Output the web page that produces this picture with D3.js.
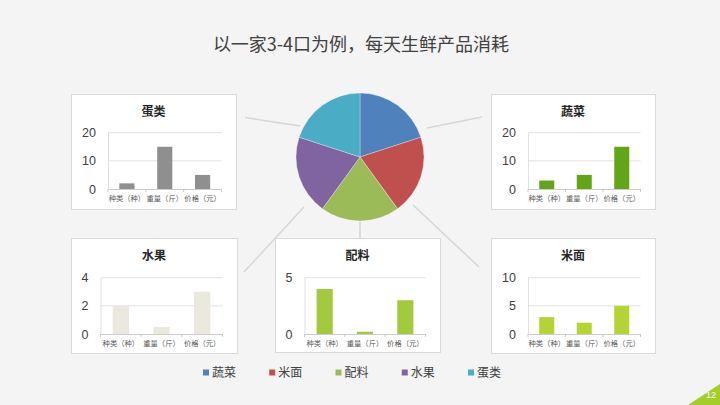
<!DOCTYPE html>
<html>
<head>
<meta charset="utf-8">
<script src="https://cdn.jsdelivr.net/npm/d3@7"></script>
<style>
  body { margin: 0; background: #f4f4f4; }
  svg { display: block; }
</style>
</head>
<body>
<div id="chart"></div>
<script>
// data
var categories = ["种类（种）", "重量（斤）", "价格（元）"];
var seriesNames = ["蔬菜", "米面", "配料", "水果", "蛋类"];
var pieShare = [20, 20, 20, 20, 20];

var vegValues = [3, 5, 15];
var grainValues = [3, 2, 5];
var spiceValues = [4, 0.2, 3];
var fruitValues = [2, 0.5, 3];
var eggValues = [2, 15, 5];

var vegTicks = [0, 10, 20];
var grainTicks = [0, 5, 10];
var spiceTicks = [0, 5];
var fruitTicks = [0, 2, 4];
var eggTicks = [0, 10, 20];

var W = 720, H = 405;
var cjk = "'Noto Sans CJK SC', 'Noto Sans', sans-serif";
var num = "'Liberation Sans', Arial, sans-serif";

var pieColors = ["#4f81bd", "#c0504d", "#9bbb59", "#8064a2", "#4bacc6"];

var svg = d3.select("#chart")
  .append("svg")
    .attr("width", W)
    .attr("height", H);

svg.append("rect")
  .attr("width", W).attr("height", H)
  .attr("fill", "#f4f4f4");

// title
svg.append("text")
  .attr("x", 361).attr("y", 51)
  .attr("text-anchor", "middle")
  .style("font-family", cjk)
  .style("font-size", "18px")
  .style("fill", "#404040")
  .text("以一家3-4口为例，每天生鲜产品消耗");

// connector lines (behind the boxes)
var connectors = [
  [245, 117.5, 300, 126],
  [427, 128, 482, 117],
  [304, 207, 244, 272],
  [360, 222, 360, 238],
  [413, 205, 479, 267]
];
svg.selectAll("line.conn")
  .data(connectors)
  .enter()
  .append("line")
    .attr("class", "conn")
    .attr("x1", function(d) { return d[0]; })
    .attr("y1", function(d) { return d[1]; })
    .attr("x2", function(d) { return d[2]; })
    .attr("y2", function(d) { return d[3]; })
    .attr("stroke", "#d6d6d6")
    .attr("stroke-width", 1.5);

// pie
var pie = d3.pie().sort(null).value(function(d) { return d; });
var arc = d3.arc().innerRadius(0).outerRadius(64);
var pieG = svg.append("g").attr("transform", "translate(360,157)");
pieG.selectAll("path")
  .data(pie(pieShare))
  .enter()
  .append("path")
    .attr("d", arc)
    .attr("fill", function(d, i) { return pieColors[i]; })
    .attr("stroke", "#ffffff")
    .attr("stroke-width", 0.3);

// small bar charts
var panels = [
  { name: "蛋类", values: eggValues, ticks: eggTicks, color: "#8f8f8f", box: [71, 94, 165, 115] },
  { name: "蔬菜", values: vegValues, ticks: vegTicks, color: "#62a617", box: [491, 94, 164, 115] },
  { name: "水果", values: fruitValues, ticks: fruitTicks, color: "#ebe9dd", box: [71, 238, 166, 115] },
  { name: "配料", values: spiceValues, ticks: spiceTicks, color: "#a2ca3e", box: [275, 238, 165, 114] },
  { name: "米面", values: grainValues, ticks: grainTicks, color: "#b4d334", box: [491, 238, 164, 115] }
];

panels.forEach(function(p) {
  var bx = p.box[0], by = p.box[1], bw = p.box[2], bh = p.box[3];
  var g = svg.append("g").attr("transform", "translate(" + bx + "," + by + ")");

  g.append("rect")
    .attr("x", 0.5).attr("y", 0.5)
    .attr("width", bw).attr("height", bh)
    .attr("fill", "#ffffff")
    .attr("stroke", "#d9d9d9");

  g.append("text")
    .attr("x", bw / 2).attr("y", 22)
    .attr("text-anchor", "middle")
    .style("font-family", cjk)
    .style("font-size", "12px")
    .style("font-weight", "bold")
    .style("fill", "#262626")
    .text(p.name);

  var maxLen = d3.max(p.ticks, function(t) { return String(t).length; });
  var left = 22 + 7.5 * maxLen;
  var right = bw - 14.5;
  var top = by < 200 ? 38.7 : 39.7;
  var bottom = by < 200 ? 95 : 96;

  var x = d3.scaleBand()
    .domain(categories)
    .range([left, right])
    .padding(0);
  var y = d3.scaleLinear()
    .domain([0, d3.max(p.ticks)])
    .range([bottom, top]);

  // gridlines
  g.append("g")
    .selectAll("line")
    .data(p.ticks.filter(function(t) { return t > 0; }))
    .enter()
    .append("line")
      .attr("x1", left).attr("x2", right)
      .attr("y1", function(d) { return y(d); })
      .attr("y2", function(d) { return y(d); })
      .attr("stroke", "#d9d9d9")
      .attr("stroke-width", 0.8);

  // y axis
  var yAxis = g.append("g")
    .attr("transform", "translate(" + left + ",0)")
    .call(d3.axisLeft(y)
      .tickValues(p.ticks)
      .tickFormat(function(d) { return String(d); })
      .tickSize(0)
      .tickPadding(12));
  yAxis.select(".domain").attr("stroke", "#d9d9d9").attr("stroke-width", 0.8);
  yAxis.selectAll("text")
    .style("font-family", num)
    .style("font-size", "12.5px")
    .style("fill", "#404040");

  // bars
  g.selectAll("rect.bar")
    .data(p.values)
    .enter()
    .append("rect")
      .attr("class", "bar")
      .attr("x", function(d, i) { return x(categories[i]) + x.bandwidth() * 0.3; })
      .attr("width", x.bandwidth() * 0.4)
      .attr("y", function(d) { return y(d); })
      .attr("height", function(d) { return y(0) - y(d); })
      .attr("fill", p.color);

  // x axis
  var xAxis = g.append("g")
    .attr("transform", "translate(0," + bottom + ")")
    .call(d3.axisBottom(x).tickSize(0).tickPadding(7));
  xAxis.select(".domain").attr("stroke", "#bfbfbf").attr("stroke-width", 0.8);
  xAxis.selectAll("text")
    .style("font-family", cjk)
    .style("font-size", "7.3px")
    .style("fill", "#595959");
  // tick marks at the band edges
  xAxis.selectAll("line.edge")
    .data(categories.concat(["end"]))
    .enter()
    .append("line")
      .attr("class", "edge")
      .attr("x1", function(d, i) { return i < categories.length ? x(d) : right; })
      .attr("x2", function(d, i) { return i < categories.length ? x(d) : right; })
      .attr("y1", 0).attr("y2", 3)
      .attr("stroke", "#bfbfbf")
      .attr("stroke-width", 0.8);
});

// legend
var lx = d3.scalePoint()
  .domain(seriesNames)
  .range([206, 471]);
var legend = svg.selectAll("g.legend")
  .data(seriesNames)
  .enter()
  .append("g")
    .attr("class", "legend")
    .attr("transform", function(d) { return "translate(" + lx(d) + ",372.5)"; });
legend.append("rect")
  .attr("x", -3).attr("y", -3)
  .attr("width", 6).attr("height", 6)
  .attr("fill", function(d, i) { return pieColors[i]; });
legend.append("text")
  .attr("x", 6).attr("y", 4.5)
  .style("font-family", cjk)
  .style("font-size", "12px")
  .style("fill", "#404040")
  .text(function(d) { return d; });

// page number corner
svg.append("path")
  .attr("d", "M688,405L720,384L720,405Z")
  .attr("fill", "#a5cd2a");
svg.append("text")
  .attr("x", 711).attr("y", 398)
  .attr("text-anchor", "middle")
  .style("font-family", num)
  .style("font-size", "9px")
  .style("fill", "#ffffff")
  .text("12");
</script>
</body>
</html>
